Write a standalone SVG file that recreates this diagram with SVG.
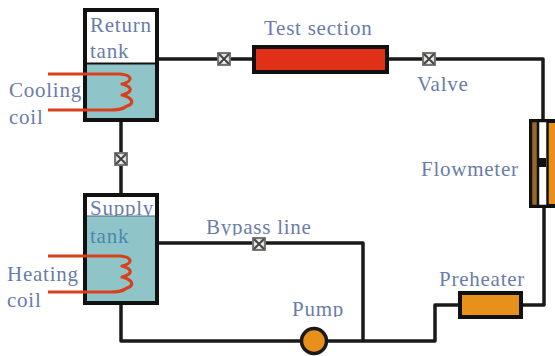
<svg xmlns="http://www.w3.org/2000/svg" width="555" height="356" viewBox="0 0 555 356">
<defs>
<g id="valve"><rect x="-7" y="-7" width="14" height="14" fill="#d4d4cc"/><path d="M-5-5L5 5M-5 5L5-5" fill="none" stroke="#444" stroke-width="2"/><rect x="-6" y="-6" width="12" height="12" fill="none" stroke="#555" stroke-width="1.500"/><circle cx="0" cy="-3.500" r="1.300" fill="#eee"/><circle cx="0" cy="3.500" r="1.300" fill="#eee"/><circle cx="-3.500" cy="0" r="1.300" fill="#eee"/><circle cx="3.500" cy="0" r="1.300" fill="#eee"/></g>
</defs>
<style>
.l{fill:#6a7cab;font-family:"Liberation Serif",serif;font-size:21px;letter-spacing:.75px}
.t{fill:#4f86ad}
.p{fill:none;stroke:#1a1a1a;stroke-width:3.500;stroke-linejoin:round}
.b{stroke:#111;stroke-width:4}
.c{fill:none;stroke:#d8401c;stroke-width:3.200;stroke-linejoin:round}
.w{fill:#fff}
.f{fill:#8fc5c8}
</style>
<rect width="555" height="356" fill="#fff"/>
<g id="connectors">
<path class="p" d="M157 59H543V122"/>
<path class="p" d="M121 120V195"/>
<path class="p" d="M157 243H363V341"/>
<path class="p" d="M121 303V341H435V305H460"/>
<path class="p" d="M520 305H544V207"/>
</g>
<g id="return-tank">
<rect x="85" y="10" width="72" height="110" fill="#fff" class="b"/>
<rect class="f" x="86" y="64" width="70" height="54"/>
<path d="M85 63.500H157" stroke="#111" stroke-width="2"/>
<rect x="85" y="10" width="72" height="110" fill="none" class="b"/>
<text class="l" x="90" y="32">Return</text><text class="l" x="90" y="58">tank</text>
</g>
<g id="cooling-coil">
<path class="c" d="M48 74H120C132 75 134 81 122 84C133 87 133 92 122 95C134 98 134 104 127 106C122 110 116 110 110 110H48"/>
<text class="l" x="9" y="97">Cooling</text><text class="l" x="9" y="124">coil</text>
</g>
<g id="supply-tank">
<rect x="85" y="195" width="72" height="108" fill="#fff" class="b"/>
<text class="l" x="90" y="215">Supply</text>
<rect class="f" x="87" y="216" width="68" height="85"/>
<path d="M87 216H155" stroke="#4a6a80" stroke-width="1"/>
<rect x="85" y="195" width="72" height="108" fill="none" class="b"/>
<text class="l t" x="90" y="243">tank</text>
</g>
<g id="heating-coil">
<path class="c" d="M48 256H120C132 257 134 263 122 266C133 269 133 274 122 277C134 280 134 286 127 288C122 292 116 292 110 292H48"/>
<text class="l" x="7" y="281">Heating</text><text class="l" x="7" y="307">coil</text>
</g>
<g id="bypass-label"><text class="l" x="206" y="234">Bypass line</text><rect class="w" x="204" y="235.500" width="110" height="5"/></g>
<g id="valve-1"><use href="#valve" x="224" y="59"/></g>
<g id="valve-2"><use href="#valve" x="429" y="59"/></g>
<g id="valve-3"><use href="#valve" x="121" y="159"/></g>
<g id="valve-4"><use href="#valve" x="259" y="244"/></g>
<g id="test-section">
<rect x="254" y="47" width="133" height="25" fill="#e03018" class="b"/>
<text class="l" x="264" y="35">Test section</text>
</g>
<g id="valve-label"><text class="l" x="417" y="91">Valve</text></g>
<g id="flowmeter">
<rect x="531" y="121" width="26" height="85" fill="#e8901c" class="b"/>
<rect x="532" y="122" width="6" height="83" fill="#9a6a2a"/>
<rect x="538" y="122" width="9" height="83" fill="#fff"/>
<path d="M538 121V206M547.500 121V206M531 121V206M531 121H557M531 206H557" fill="none" stroke="#111" stroke-width="2.500"/>
<rect x="537" y="158" width="9" height="9" fill="#111"/>
<text class="l" x="421" y="176">Flowmeter</text>
</g>
<g id="pump">
<circle cx="314" cy="341" r="12.500" fill="#e8901c" stroke="#1a1a1a" stroke-width="3.500"/>
<text class="l" x="292" y="316">Pump</text><rect class="w" x="290" y="317" width="60" height="7"/>
</g>
<g id="preheater">
<rect x="460" y="293" width="61" height="24" fill="#e8901c" class="b"/>
<text class="l" x="439" y="286">Preheater</text>
</g>
</svg>
